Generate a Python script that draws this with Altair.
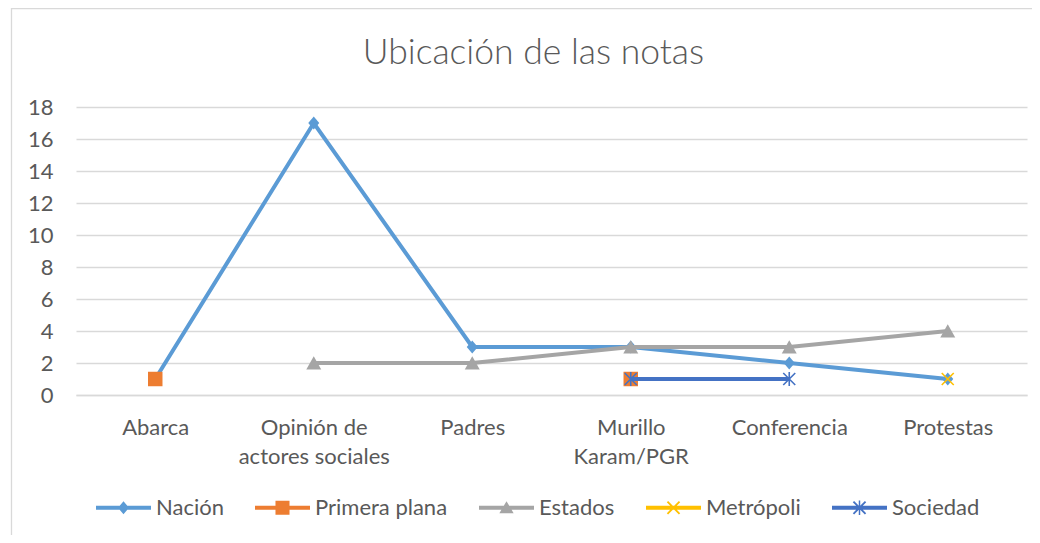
import altair as alt
import pandas as pd

# ---- data ----
categories = ["Abarca", "Opinión de\nactores sociales", "Padres",
              "Murillo\nKaram/PGR", "Conferencia", "Protestas"]
series_names = ["Nación", "Primera plana", "Estados", "Metrópoli", "Sociedad"]
nacion = [1, 17, 3, 3, 2, 1]
primera_plana = [1, None, None, 1, None, None]
estados = [None, 2, 2, 3, 3, 4]
metropoli = [None, None, None, None, None, 1]
sociedad = [None, None, None, 1, 1, None]
y_ticks = [0, 2, 4, 6, 8, 10, 12, 14, 16, 18]

# ---- styles ----
colors = ["#5B9BD5", "#ED7D31", "#A5A5A5", "#FFC000", "#4472C4"]
marker_paths = [
    "M0,-1L0.85,0L0,1L-0.85,0Z",
    "M-1,-1H1V1H-1Z",
    "M0,-0.9L1,0.85H-1Z",
    "M-1,-1L1,1M-1,1L1,-1",
    "M-1,-1L1,1M-1,1L1,-1M0,-1.15L0,1.15",
]
marker_sizes = [169, 210, 225, 144, 144]
marker_filled = [True, True, True, False, False]

LINE = "M-1,-0.073H1V0.073H-1Z "
legend_paths = [
    LINE + "M0,-0.236L0.2,0L0,0.236L-0.2,0Z",
    LINE + "M-0.255,-0.255H0.255V0.255H-0.255Z",
    LINE + "M0,-0.24L0.26,0.2H-0.26Z",
    LINE + "M-0.196,-0.244L0.244,0.196L0.196,0.244L-0.244,-0.196Z "
           "M-0.244,0.196L0.196,-0.244L0.244,-0.196L-0.196,0.244Z",
    LINE + "M-0.196,-0.244L0.244,0.196L0.196,0.244L-0.244,-0.196Z "
           "M-0.244,0.196L0.196,-0.244L0.244,-0.196L-0.196,0.244Z "
           "M-0.027,-0.26H0.027V0.26H-0.027Z",
]

TEXT = "#595959"
GRID = "#D9D9D9"
FONT = "Lato"

series_values = [nacion, primera_plana, estados, metropoli, sociedad]
rows = []
for name, vals in zip(series_names, series_values):
    for cat, v in zip(categories, vals):
        rows.append({"category": cat, "series": name, "value": v})
df = pd.DataFrame(rows)

x_enc = alt.X(
    "category:N",
    sort=categories,
    scale=alt.Scale(type="point", padding=0.5, domain=categories),
    axis=alt.Axis(
        title=None, labelAngle=0, ticks=False, tickSize=0, grid=False,
        domainColor=GRID, domainWidth=1.3,
        labelFont=FONT, labelFontSize=22, labelColor=TEXT, labelPadding=22,
        labelLineHeight=29, labelExpr="split(datum.label, '\\n')",
    ),
)
y_enc = alt.Y(
    "value:Q",
    scale=alt.Scale(domain=[0, 18], nice=False, zero=True),
    axis=alt.Axis(
        title=None, values=y_ticks, ticks=False, tickSize=0, domain=False,
        gridColor=GRID, gridWidth=1.3,
        labelFont=FONT, labelFontSize=22, labelColor=TEXT, labelPadding=23,
    ),
)

border = alt.Chart(alt.Data(values=[{"b": 1}])).mark_rect(
    fillOpacity=0, stroke=GRID, strokeWidth=1.3
).encode(
    x=alt.value(-64.5), x2=alt.value(2000), y=alt.value(-98.5), y2=alt.value(2000)
)

base = alt.Chart(df)
layers = [border]
for name, color, path, size, filled in zip(series_names, colors, marker_paths,
                                            marker_sizes, marker_filled):
    sub = base.transform_filter(alt.datum.series == name)
    layers.append(
        sub.mark_line(color=color, strokeWidth=4, invalid="break-paths-filter-domains")
        .encode(x=x_enc, y=y_enc)
    )
    layers.append(
        sub.mark_point(shape=path, size=size, filled=filled, color=color,
                       opacity=1, strokeWidth=1.6)
        .encode(x=x_enc, y=y_enc)
    )

legend_props = dict(
    title=None, orient="none", legendX=20, legendY=373,
    direction="horizontal", columns=5, symbolSize=3025,
    symbolStrokeWidth=0, labelFont=FONT, labelFontSize=22,
    labelColor=TEXT, labelOffset=5, columnPadding=31, padding=0,
)
legend_layer = (
    alt.Chart(alt.Data(values=[{"series": s} for s in series_names]))
    .transform_filter("false")
    .mark_point(filled=True, opacity=1)
    .encode(
        color=alt.Color(
            "series:N",
            scale=alt.Scale(domain=series_names, range=colors),
            legend=alt.Legend(**legend_props),
        ),
        shape=alt.Shape(
            "series:N",
            scale=alt.Scale(domain=series_names, range=legend_paths),
            legend=alt.Legend(**legend_props),
        ),
    )
)
layers.append(legend_layer)

chart = (
    alt.layer(*layers)
    .properties(
        width=951,
        height=288,
        title=alt.TitleParams(
            text="Ubicación de las notas", font=FONT, fontSize=35.5,
            fontWeight=300, color=TEXT, anchor="middle", dx=-18, offset=-64,
        ),
        padding={"left": 68, "top": 99, "right": 5, "bottom": 140},
        autosize=alt.AutoSizeParams(type="none"),
        background="white",
    )
    .configure_view(stroke=None)
)

chart.save("out.html", embed_options={"renderer": "svg", "actions": False})
